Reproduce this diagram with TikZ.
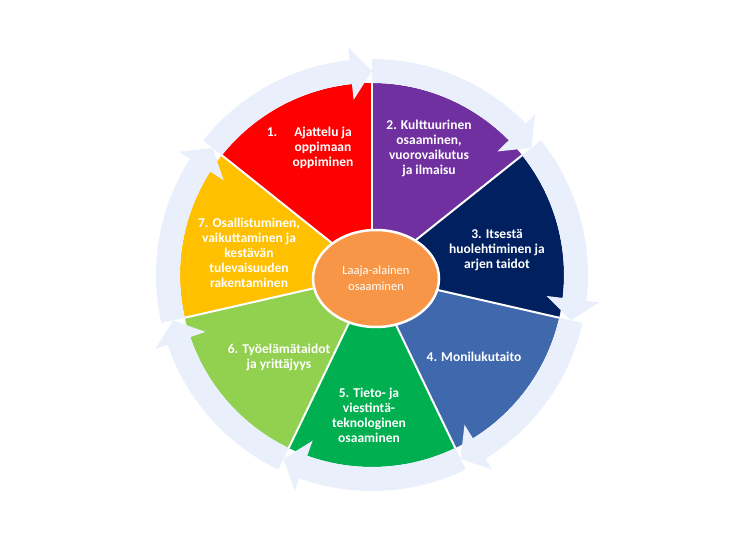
\documentclass[tikz,border=0pt]{standalone}
\usepackage{fontspec}
\setmainfont{Carlito}
\usetikzlibrary{shapes.geometric}
\definecolor{ringpale}{HTML}{E9EFFB}
\definecolor{segred}{HTML}{FF0000}
\definecolor{segpurple}{HTML}{7030A0}
\definecolor{segnavy}{HTML}{002060}
\definecolor{segblue}{HTML}{4068AC}
\definecolor{seggreen}{HTML}{00B050}
\definecolor{seglime}{HTML}{92D050}
\definecolor{segyellow}{HTML}{FFC000}
\definecolor{huborange}{HTML}{F79646}
\begin{document}
\begin{tikzpicture}[x=1pt,y=1pt,
  gap/.style={draw=white,line width=2pt},
  ringarrow/.style={fill=ringpale},
  lbl/.style={text=white,align=center,font=\bfseries\fontsize{13.5}{15}\selectfont},
  hubnode/.style={ellipse,draw=white,line width=2.5pt,fill=huborange,text=white,minimum width=126pt,minimum height=97pt,inner sep=0pt,align=center,font=\fontsize{12.5}{16}\selectfont}]
\useasboundingbox (0,0) rectangle (729,547);
\begin{scope}[shift={(372,272)}]
% coloured wedges
\foreach \c [count=\i] in {segred,segpurple,segnavy,segblue,seggreen,seglime,segyellow}{
  \pgfmathsetmacro\s{90-(\i-2)*360/7}
  \pgfmathsetmacro\e{\s-360/7}
  \fill[\c] (0,0) -- (\s:192) arc[start angle=\s,end angle=\e,radius=192] -- cycle;
}
\foreach \i in {1,...,7}{
  \pgfmathsetmacro\s{90-(\i-2)*360/7}
  \draw[gap] (0,0) -- (\s:192);
}
% pale circular arrows
\foreach \i in {1,...,7}{
  \pgfmathsetmacro\s{90-(\i-2)*360/7}
  \pgfmathsetmacro\e{\s-360/7}
  \pgfmathsetmacro\b{\e+6}
  \fill[ringarrow] (\s:216) arc[start angle=\s,end angle=\b,radius=216] -- (\b:229) -- (\e:204) -- (\b:176) -- (\b:192) arc[start angle=\b,end angle=\s,radius=192] -- cycle;
}
\end{scope}
\node[hubnode] (hub) at (376,268.5) {Laaja-alainen\\osaaminen};
\node[lbl] (think) at (323,399) {\llap{1.\hspace{17pt}}Ajattelu ja\\oppimaan\\oppiminen};
\node[lbl] (culture) at (429,398.5) {2. Kulttuurinen\\osaaminen,\\vuorovaikutus\\ja ilmaisu};
\node[lbl] (selfcare) at (497,297) {3. Itsestä\\huolehtiminen ja\\arjen taidot};
\node[lbl] (multilit) at (474,190) {4. Monilukutaito};
\node[lbl] (ict) at (369,132) {5. Tieto- ja\\viestintä-\\teknologinen\\osaaminen};
\node[lbl] (work) at (279,189.5) {6. Työelämätaidot\\ja yrittäjyys};
\node[lbl] (partic) at (249,294.5) {7. Osallistuminen,\\vaikuttaminen ja\\kestävän\\tulevaisuuden\\rakentaminen};
\end{tikzpicture}
\end{document}
